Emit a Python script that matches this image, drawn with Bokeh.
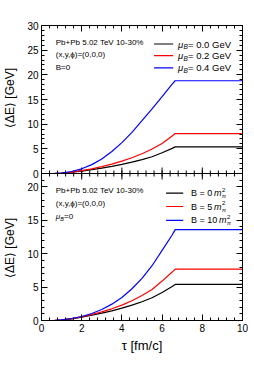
import numpy as np
from bokeh.plotting import figure
from bokeh.models import (Range1d, LinearAxis, Label, SingleIntervalTicker,
                          CustomLabelingPolicy, FixedTicker, CustomJSTickFormatter,
                          Span)
from bokeh.embed import file_html
from bokeh.resources import INLINE

# ---- data ----
tau = [0.6, 1.0, 1.5, 2.0, 2.5, 3.0, 3.5, 4.0, 4.5, 5.0, 5.5, 6.0, 6.5, 6.65, 10.0]

# top panel: B = 0, varying mu_B
top_mu00 = [0.0, 0.07, 0.25, 0.5, 0.8, 1.1, 1.45, 1.85, 2.3, 2.8, 3.4, 4.2, 5.1, 5.4, 5.4]
top_mu02 = [0.0, 0.08, 0.28, 0.58, 0.95, 1.4, 1.9, 2.5, 3.2, 4.0, 4.95, 6.1, 7.6, 8.1, 8.1]
top_mu04 = [0.0, 0.1, 0.4, 0.95, 1.8, 2.95, 4.45, 6.25, 8.35, 10.7, 13.1, 15.6, 18.1, 18.8, 18.8]
top_labels = ["0.0", "0.2", "0.4"]

# bottom panel: mu_B = 0, varying B
bot_B0 = [0.0, 0.07, 0.25, 0.5, 0.8, 1.1, 1.45, 1.85, 2.3, 2.8, 3.4, 4.2, 5.1, 5.4, 5.4]
bot_B5 = [0.0, 0.08, 0.27, 0.55, 0.9, 1.3, 1.75, 2.3, 2.95, 3.75, 4.65, 5.9, 7.25, 7.7, 7.7]
bot_B10 = [0.0, 0.1, 0.3, 0.6, 1.05, 1.65, 2.45, 3.45, 4.75, 6.3, 8.2, 10.5, 12.8, 13.6, 13.6]
bot_labels = ["0", "5", "10"]

# axis ranges / ticks
x_max = 10
y_top_max = 30
y_bot_max = 22
y_major_step = 5
x_major_step = 2
y_title = "⟨ΔE⟩ [GeV]"

colors = ["black", "#ff0000", "#0000ff"]
FONT = "Liberation Sans"
HIDE = "for (const i of indices) indices.unset(i)\nreturn indices"

# panel geometry (pixels)
FT, FB = 148, 147
BT, BB, BL, BR = 25, 45, 41, 5
k_bot = FB / y_bot_max      # px per bottom unit
k_top = FT / y_top_max      # px per top unit
ratio = k_top / k_bot       # bottom units per top unit


def top_to_bot(v):
    return y_bot_max + v * ratio


p = figure(frame_width=201, frame_height=FT + FB,
           x_range=Range1d(0, x_max),
           y_range=Range1d(0, y_bot_max * (FT + FB) / FB),
           output_backend="svg", toolbar_location=None,
           min_border_left=BL, min_border_right=BR, min_border_top=BT,
           min_border_bottom=BB,
           x_axis_location=None, y_axis_location=None)
p.extra_y_ranges = {"top": Range1d(-y_top_max * FB / FT, y_top_max)}
p.grid.visible = False
p.outline_line_color = "black"
p.outline_line_width = 1
p.background_fill_color = "white"
p.border_fill_color = "white"


def style_axis(ax, show_labels=True, label_size="10px"):
    ax.major_tick_in = 6
    ax.major_tick_out = 0
    ax.minor_tick_in = 3
    ax.minor_tick_out = 0
    ax.axis_line_color = "black"
    ax.major_tick_line_color = "black"
    ax.minor_tick_line_color = "black"
    ax.major_label_text_font = FONT
    ax.axis_label_text_font = FONT
    ax.axis_label_text_font_style = "normal"
    ax.axis_label_text_color = "black"
    ax.major_label_text_color = "black"
    if show_labels:
        ax.major_label_text_font_size = label_size
        ax.major_label_standoff = 3
    else:
        ax.major_label_text_font_size = "1px"
        ax.major_label_policy = CustomLabelingPolicy(code=HIDE)
        ax.major_label_standoff = 0
        ax.axis_label = None
        ax.axis_label_standoff = 0


# y ticks for both panels on one shared axis line
bot_major = list(range(0, y_bot_max + 1, y_major_step))
bot_minor = list(range(0, y_bot_max + 1))
top_major = [top_to_bot(v) for v in range(0, y_top_max + 1, y_major_step)]
top_minor = [top_to_bot(v) for v in range(0, y_top_max + 1)]
y_ticker = FixedTicker(ticks=bot_major + top_major, minor_ticks=bot_minor + top_minor)
y_fmt = CustomJSTickFormatter(args=dict(b=y_bot_max, r=1.0 / ratio), code="""
    if (tick > b - 1e-6) { return String(Math.round((tick - b) * r)); }
    return String(Math.round(tick));
""")

left = LinearAxis(ticker=y_ticker, formatter=y_fmt)
style_axis(left)
# one title per panel: the axis title is centred on the whole frame, so the
# two panel titles are separated by non-breaking spaces
gap = "\u00a0" * 27
left.axis_label = y_title + gap + y_title
left.axis_label_text_font_size = "12px"
left.axis_label_standoff = 7
p.add_layout(left, "left")
right = LinearAxis(ticker=FixedTicker(ticks=bot_major + top_major,
                                      minor_ticks=bot_minor + top_minor))
style_axis(right, show_labels=False)
p.add_layout(right, "right")

bottom = LinearAxis(ticker=SingleIntervalTicker(interval=x_major_step, num_minor_ticks=5))
style_axis(bottom)
bottom.axis_label = "τ [fm/c]"
bottom.axis_label_text_font_size = "13px"
bottom.axis_label_standoff = 3
p.add_layout(bottom, "below")
top = LinearAxis(ticker=SingleIntervalTicker(interval=x_major_step, num_minor_ticks=5))
style_axis(top, show_labels=False)
p.add_layout(top, "above")

# shared border between the two panels, with ticks both ways
p.add_layout(Span(location=y_bot_max, dimension="width", line_color="black",
                  line_width=1))
mid_major = np.arange(0, x_max + 1e-9, x_major_step)
mid_minor = np.arange(0, x_max + 1e-9, x_major_step / 5)
maj_len = 6 / k_bot
min_len = 3 / k_bot
p.segment(x0=mid_major, x1=mid_major, y0=y_bot_max - maj_len, y1=y_bot_max + maj_len,
          line_color="black", line_width=1)
p.segment(x0=mid_minor, x1=mid_minor, y0=y_bot_max - min_len, y1=y_bot_max + min_len,
          line_color="black", line_width=1)


def txt(x, y, s, size, style="normal", xo=0, yo=0, rng="default"):
    p.add_layout(Label(x=x, y=y, text=s, x_offset=xo, y_offset=yo,
                       y_range_name=rng,
                       text_font=FONT, text_font_size=size,
                       text_font_style=style, text_baseline="middle",
                       text_align="left", text_color="black"))


# ---------------- top panel ----------------
for ys, c in zip([top_mu00, top_mu02, top_mu04], colors):
    p.line(tau, ys, line_color=c, line_width=1.2, y_range_name="top")

txt(0.71, 26.6, "Pb+Pb 5.02 TeV 10-30%", "8px", rng="top")
txt(0.71, 24.1, "(x,y,ϕ)=(0,0,0)", "8px", rng="top")
txt(0.71, 21.5, "B=0", "8px", rng="top")

leg_y1 = [26.25, 23.9, 21.4]
for yy, c, lab in zip(leg_y1, colors, top_labels):
    p.line([5.6, 6.55], [yy, yy], line_color=c, line_width=1.2, y_range_name="top")
    txt(6.79, yy, "μ", "9.5px", "italic", rng="top")
    txt(6.79, yy, "B", "6.5px", "italic", xo=5.5, yo=-2.5, rng="top")
    txt(6.79, yy, "= " + lab + " GeV", "9.5px", xo=10, rng="top")

# ---------------- bottom panel ----------------
for ys, c in zip([bot_B0, bot_B5, bot_B10], colors):
    p.line(tau, ys, line_color=c, line_width=1.2)

txt(0.71, 19.45, "Pb+Pb 5.02 TeV 10-30%", "8px")
txt(0.71, 17.5, "(x,y,ϕ)=(0,0,0)", "8px")
txt(0.71, 15.56, "μ", "8px", "italic")
txt(0.71, 15.56, "B", "5.5px", "italic", xo=4.6, yo=-2)
txt(0.71, 15.56, "=0", "8px", xo=8.2)

leg_y2 = [19.05, 17.06, 14.97]
for yy, c, lab in zip(leg_y2, colors, bot_labels):
    p.line([6.2, 7.05], [yy, yy], line_color=c, line_width=1.2)
    txt(7.44, yy, "B = " + lab, "9px")
    mo = 23 if len(lab) == 1 else 28
    txt(7.44, yy, "m", "9px", "italic", xo=mo)
    txt(7.44, yy, "2", "6px", xo=mo + 8, yo=3.5)
    txt(7.44, yy, "π", "6px", "italic", xo=mo + 8, yo=-3)

open("out.html", "w").write(file_html(p, INLINE))
